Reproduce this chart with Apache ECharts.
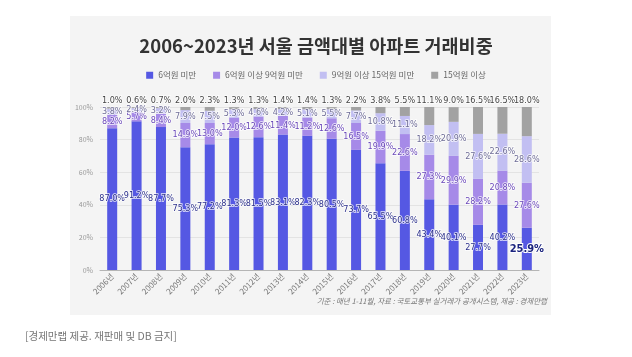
<!DOCTYPE html>
<html>
<head>
<meta charset="utf-8">
<script src="https://cdn.jsdelivr.net/npm/echarts@6/dist/echarts.min.js"></script>
<style>
html,body{margin:0;padding:0;background:#fff;}
#c{width:632px;height:357px;}
</style>
</head>
<body>
<div id="c"></div>
<script>
const years = ['2006년','2007년','2008년','2009년','2010년','2011년','2012년','2013년','2014년','2015년','2016년','2017년','2018년','2019년','2020년','2021년','2022년','2023년'];
const under6 = [87.0, 91.2, 87.7, 75.3, 77.2, 81.3, 81.5, 83.1, 82.3, 80.5, 73.7, 65.5, 60.8, 43.4, 40.1, 27.7, 40.2, 25.9];
const from6to9 = [8.2, 5.7, 8.4, 14.9, 13.0, 12.0, 12.6, 11.4, 11.2, 12.6, 16.5, 19.9, 22.6, 27.3, 29.9, 28.2, 20.8, 27.6];
const from9to15 = [3.8, 2.4, 3.2, 7.9, 7.5, 5.3, 4.6, 4.2, 5.1, 5.5, 7.7, 10.8, 11.1, 18.2, 20.9, 27.6, 22.6, 28.6];
const over15 = [1.0, 0.6, 0.7, 2.0, 2.3, 1.3, 1.3, 1.4, 1.4, 1.3, 2.2, 3.8, 5.5, 11.1, 9.0, 16.5, 16.5, 18.0];
const seriesNames = ['6억원 미만', '6억원 이상 9억원 미만', '9억원 이상 15억원 미만', '15억원 이상'];
const yTicks = [0, 20, 40, 60, 80, 100];

const numFont = '"Liberation Sans Narrow", "DejaVu Sans Condensed", "Roboto", sans-serif';
const krFont = '"Noto Sans CJK KR", "Noto Sans", sans-serif';

function lbl(color, pos) {
  return {
    show: true, position: pos, fontFamily: numFont, fontSize: 9, color: color,
    textBorderColor: 'rgba(255,255,255,0.85)', textBorderWidth: 1.5,
    formatter: p => p.value.toFixed(1) + '%'
  };
}

const chart = echarts.init(document.getElementById('c'), null, {renderer: 'canvas'});
const blueData = under6.map((v, i) => i === under6.length - 1 ? {
  value: v, label: {fontSize: 11, fontWeight: 'bold', color: '#1a237e', textBorderColor: '#fff', textBorderWidth: 2}
} : v);

chart.setOption({
  animation: false,
  backgroundColor: '#ffffff',
  graphic: [
    {type: 'rect', z: -10, shape: {x: 70, y: 16, width: 481, height: 299}, style: {fill: '#f4f4f4'}},
    {type: 'text', left: 25, top: 331, style: {text: '[경제만랩 제공. 재판매 및 DB 금지]', fontFamily: krFont, fontSize: 10.5, fill: '#777'}},
    {type: 'text', right: 85, top: 297, style: {text: '기준 : 매년 1-11월, 자료 : 국토교통부 실거래가 공개시스템, 제공 : 경제만랩', fontFamily: krFont, fontSize: 7.5, fontStyle: 'italic', fill: '#777'}}
  ],
  title: {
    text: '2006~2023년 서울 금액대별 아파트 거래비중',
    left: 'center', top: 32,
    textStyle: {fontFamily: krFont, fontSize: 18.5, fontWeight: 'bold', color: '#333'}
  },
  legend: {
    top: 66, left: 'center', itemWidth: 7, itemHeight: 7, itemGap: 17, icon: 'rect',
    textStyle: {fontFamily: krFont, fontSize: 8.5, color: '#666'},
    data: seriesNames
  },
  grid: {left: 100, right: 93, top: 107, bottom: 87},
  xAxis: {
    type: 'category', data: years,
    axisLine: {lineStyle: {color: '#b5b5b5'}},
    axisTick: {show: false},
    axisLabel: {interval: 0, rotate: 45, fontFamily: krFont, fontSize: 8, color: '#777', margin: 5}
  },
  yAxis: {
    type: 'value', min: yTicks[0], max: yTicks[yTicks.length - 1], interval: 20,
    axisLine: {show: false}, axisTick: {show: false},
    axisLabel: {formatter: '{value}%', fontFamily: krFont, fontSize: 7, color: '#999', margin: 7},
    splitLine: {lineStyle: {color: '#e3e3e3'}}
  },
  series: [
    {name: seriesNames[0], type: 'bar', stack: 't', barWidth: 10, data: blueData,
     itemStyle: {color: '#5558e3'}, label: lbl('#2b2f8a', 'inside')},
    {name: seriesNames[1], type: 'bar', stack: 't', barWidth: 10, data: from6to9,
     itemStyle: {color: '#a68ae8'}, label: lbl('#6a48b8', 'inside')},
    {name: seriesNames[2], type: 'bar', stack: 't', barWidth: 10, data: from9to15,
     itemStyle: {color: '#c2bff2'}, label: lbl('#6e6c96', 'inside')},
    {name: seriesNames[3], type: 'bar', stack: 't', barWidth: 10, data: over15,
     itemStyle: {color: '#a2a2a2'}, label: Object.assign(lbl('#444', 'top'), {distance: 2})}
  ]
});
</script>
</body>
</html>
